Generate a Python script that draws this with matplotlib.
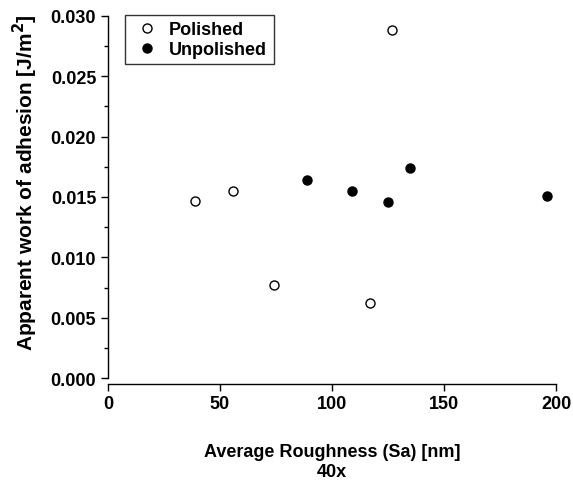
import matplotlib
matplotlib.use("Agg")
import matplotlib.pyplot as plt
from matplotlib.ticker import MultipleLocator

plt.rcParams['font.family'] = ['Liberation Sans', 'DejaVu Sans']
plt.rcParams['font.weight'] = 'bold'
plt.rcParams['mathtext.default'] = 'bf'

polished_x = [39, 56, 74, 117, 127]
polished_y = [0.0147, 0.0155, 0.0077, 0.0062, 0.0288]
unpolished_x = [89, 109, 125, 135, 196]
unpolished_y = [0.0164, 0.0155, 0.0146, 0.0174, 0.0151]

fig = plt.figure(figsize=(5.73, 4.89), dpi=100)
ax = fig.add_axes([108/573, 1-379/489, (556-108)/573, (379-17)/489])

ax.plot(polished_x, polished_y, 'o', ms=6.5, mfc='white', mec='black', mew=1.0,
        ls='none', label='Polished')
ax.plot(unpolished_x, unpolished_y, 'o', ms=6.5, mfc='black', mec='black', mew=1.0,
        ls='none', label='Unpolished')

ax.set_xlim(0, 200)
ax.set_ylim(0, 0.030)
ax.xaxis.set_major_locator(MultipleLocator(50))
ax.yaxis.set_major_locator(MultipleLocator(0.005))
ax.yaxis.set_minor_locator(MultipleLocator(0.0025))
ax.yaxis.set_major_formatter(matplotlib.ticker.FormatStrFormatter('%.3f'))

for s in ['top', 'right']:
    ax.spines[s].set_visible(False)
ax.spines['bottom'].set_position(('outward', 4))
for s in ['left', 'bottom']:
    ax.spines[s].set_linewidth(1.0)

ax.tick_params(axis='both', which='major', direction='out', length=5, width=1,
               labelsize=13)
ax.tick_params(axis='y', which='minor', direction='out', length=3, width=1)

ax.set_xlabel('Average Roughness (Sa) [nm]\n40x', fontsize=13, labelpad=22,
              linespacing=1.2, fontweight='bold')
ax.set_ylabel('Apparent work of adhesion [J/m$^2$]', fontsize=15,
              fontweight='bold')
ax.yaxis.set_label_coords(-(108-40)/448, (379-183)/362)

leg = ax.legend(loc='upper left', bbox_to_anchor=((125-108)/448, 1.003),
                frameon=True, fancybox=False, edgecolor='black',
                prop={'size': 13, 'weight': 'bold'},
                handletextpad=0.4, borderpad=0.35, labelspacing=0.15,
                handlelength=1.7, borderaxespad=0)
leg.get_frame().set_linewidth(1.0)

fig.savefig('out.png', dpi=100)
